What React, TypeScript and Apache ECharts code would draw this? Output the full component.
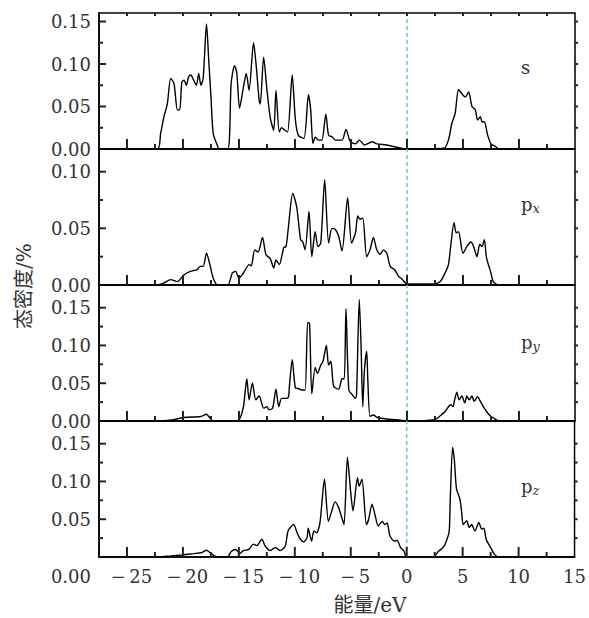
import React, { useEffect, useRef } from 'react';
import * as echarts from 'echarts';

// ---- data (energy eV, DOS) ----
const sDos: number[][] = [[-27.5,0],[-22.3,0],[-22.0,0.018],[-21.7,0.038],[-21.4,0.053],[-21.1,0.083],[-20.8,0.077],[-20.5,0.046],[-20.3,0.046],[-20.1,0.079],[-19.9,0.081],[-19.7,0.075],[-19.5,0.085],[-19.3,0.087],[-19.05,0.081],[-18.8,0.075],[-18.6,0.089],[-18.4,0.075],[-18.2,0.083],[-17.9,0.147],[-17.7,0.104],[-17.5,0.061],[-17.3,0.018],[-16.9,0.003],[-16.8,0],[-16.0,0],[-15.7,0.077],[-15.4,0.098],[-15.2,0.09],[-14.95,0.048],[-14.6,0.073],[-14.35,0.089],[-14.1,0.069],[-13.7,0.125],[-13.45,0.096],[-13.2,0.057],[-13.1,0.053],[-12.8,0.108],[-12.5,0.069],[-12.2,0.036],[-11.9,0.022],[-11.7,0.069],[-11.4,0.020],[-11.2,0.025],[-10.9,0.022],[-10.66,0.020],[-10.25,0.087],[-9.97,0.035],[-9.7,0.016],[-9.2,0.0125],[-8.8,0.064],[-8.6,0.046],[-8.4,0.0066],[-8.2,0.014],[-7.9,0.0105],[-7.6,0.0105],[-7.25,0.041],[-7.0,0.016],[-6.7,0.0144],[-6.4,0.0105],[-5.8,0.0105],[-5.45,0.023],[-5.06,0.0086],[-4.6,0.006],[-4.26,0.0105],[-3.8,0.0047],[-3.1,0.0086],[-2.7,0.006],[-1.8,0.0047],[-0.9,0.002],[-0.15,0],[3.3,0.001],[3.7,0.0105],[4.0,0.030],[4.3,0.042],[4.6,0.070],[4.9,0.065],[5.2,0.061],[5.5,0.067],[5.8,0.050],[6.1,0.046],[6.3,0.034],[6.55,0.038],[6.7,0.032],[6.9,0.032],[7.2,0.0164],[7.5,0.006],[7.9,0.003],[8.2,0],[15,0]];

const pxDos: number[][] = [[-27.5,0],[-22.3,0],[-21.7,0.0018],[-21.1,0.0047],[-20.5,0.003],[-19.9,0.009],[-19.35,0.012],[-18.75,0.0135],[-18.45,0.0164],[-18.2,0.0164],[-17.9,0.028],[-17.6,0.018],[-17.3,0.006],[-16.9,0],[-16.0,0],[-15.6,0.0106],[-15.3,0.012],[-15.0,0.006],[-14.6,0.0106],[-14.1,0.018],[-13.9,0.017],[-13.6,0.031],[-13.3,0.029],[-12.9,0.042],[-12.6,0.027],[-12.2,0.023],[-11.9,0.015],[-11.7,0.022],[-11.4,0.018],[-11.0,0.033],[-10.8,0.034],[-10.6,0.05],[-10.2,0.081],[-9.85,0.069],[-9.5,0.040],[-9.3,0.038],[-9.1,0.031],[-8.75,0.065],[-8.5,0.025],[-8.2,0.047],[-7.95,0.034],[-7.7,0.037],[-7.35,0.093],[-7.0,0.037],[-6.7,0.050],[-6.4,0.049],[-6.1,0.043],[-5.8,0.030],[-5.3,0.077],[-4.95,0.037],[-4.6,0.046],[-4.4,0.061],[-4.2,0.058],[-3.95,0.059],[-3.6,0.025],[-3.3,0.031],[-3.0,0.042],[-2.7,0.031],[-2.4,0.027],[-2.1,0.031],[-1.8,0.028],[-1.5,0.0164],[-1.1,0.0135],[-0.75,0.0076],[-0.45,0.0053],[0,0.001],[2.5,0.001],[2.97,0.003],[3.4,0.0106],[3.7,0.018],[3.9,0.034],[4.2,0.055],[4.4,0.046],[4.6,0.047],[5.0,0.028],[5.35,0.034],[5.7,0.038],[5.95,0.034],[6.25,0.025],[6.5,0.036],[6.7,0.034],[6.9,0.040],[7.1,0.024],[7.5,0.0106],[7.7,0.003],[8.2,0],[15,0]];

const pyDos: number[][] = [[-27.5,0],[-22.3,0],[-20.8,0.0018],[-20.2,0.004],[-19.6,0.005],[-18.4,0.006],[-17.9,0.009],[-17.7,0.006],[-17.3,0],[-15.2,0],[-14.9,0.004],[-14.6,0.019],[-14.3,0.056],[-14.1,0.028],[-13.8,0.050],[-13.5,0.028],[-13.2,0.033],[-12.8,0.017],[-12.5,0.019],[-12.35,0.015],[-12.0,0.017],[-11.7,0.042],[-11.45,0.019],[-11.2,0.030],[-10.9,0.030],[-10.6,0.031],[-10.5,0.046],[-10.25,0.081],[-9.97,0.044],[-9.7,0.043],[-9.4,0.041],[-9.1,0.041],[-8.87,0.130],[-8.7,0.129],[-8.5,0.036],[-8.2,0.071],[-8.0,0.063],[-7.7,0.074],[-7.5,0.079],[-7.2,0.100],[-7.0,0.074],[-6.8,0.079],[-6.55,0.046],[-6.1,0.042],[-5.8,0.056],[-5.6,0.056],[-5.45,0.149],[-5.2,0.041],[-4.9,0.035],[-4.6,0.030],[-4.5,0.037],[-4.26,0.161],[-4.1,0.099],[-3.95,0.019],[-3.8,0.068],[-3.6,0.092],[-3.5,0.055],[-3.3,0.006],[-3.0,0.008],[-2.7,0.005],[-1.8,0.0026],[-0.9,0.0018],[0,0],[2.5,0.0018],[2.97,0.007],[3.4,0.0127],[3.9,0.0216],[4.1,0.019],[4.25,0.028],[4.45,0.038],[4.65,0.028],[4.9,0.033],[5.15,0.024],[5.35,0.033],[5.55,0.028],[5.8,0.033],[6.0,0.026],[6.3,0.032],[6.55,0.026],[6.9,0.017],[7.2,0.0106],[7.5,0.006],[7.9,0.0026],[8.2,0],[15,0]];

const pzDos: number[][] = [[-27.5,0],[-22.2,0],[-21.1,0.0013],[-20.1,0.0027],[-19.05,0.0045],[-18.3,0.006],[-17.9,0.009],[-17.6,0.006],[-17.3,0.0027],[-16.9,0],[-16.0,0],[-15.7,0.007],[-15.3,0.010],[-14.9,0.0045],[-14.6,0.0085],[-14.1,0.010],[-13.7,0.017],[-13.4,0.015],[-12.95,0.0235],[-12.65,0.0146],[-12.2,0.0085],[-11.75,0.0125],[-11.3,0.0085],[-10.85,0.0146],[-10.6,0.0345],[-10.1,0.043],[-9.8,0.032],[-9.5,0.0235],[-9.2,0.020],[-8.9,0.026],[-8.8,0.038],[-8.5,0.021],[-8.3,0.0345],[-8.05,0.032],[-7.75,0.0456],[-7.35,0.103],[-7.0,0.047],[-6.7,0.061],[-6.4,0.073],[-6.1,0.066],[-5.8,0.052],[-5.6,0.043],[-5.3,0.132],[-5.0,0.085],[-4.8,0.061],[-4.4,0.105],[-4.25,0.094],[-4.0,0.103],[-3.6,0.043],[-3.4,0.050],[-3.1,0.070],[-2.85,0.057],[-2.55,0.041],[-2.2,0.047],[-1.95,0.043],[-1.75,0.045],[-1.5,0.028],[-1.1,0.021],[-0.85,0.022],[-0.55,0.0125],[-0.25,0.008],[0,0],[2.4,0],[2.8,0.007],[3.3,0.0133],[3.6,0.0235],[3.8,0.0345],[3.9,0.079],[4.1,0.145],[4.25,0.130],[4.45,0.090],[4.75,0.077],[4.9,0.061],[5.05,0.043],[5.35,0.048],[5.6,0.039],[5.8,0.043],[6.1,0.0345],[6.45,0.0456],[6.7,0.037],[6.9,0.038],[7.1,0.0235],[7.5,0.0125],[7.8,0.0045],[8.2,0],[15,0]];

const panelData = [sDos, pxDos, pyDos, pzDos];
const panelMain = ['s', 'p', 'p', 'p'];
const panelSub = ['', 'x', 'y', 'z'];
const yMaxes = [0.16, 0.12, 0.18, 0.18];
const yMinorTicks = [
  [0.025, 0.075, 0.125],
  [0.025, 0.075],
  [0.025, 0.075, 0.125],
  [0.025, 0.075, 0.125],
];
const yMajorTicks = [
  [0.05, 0.1, 0.15],
  [0.05, 0.1],
  [0.05, 0.1, 0.15],
  [0.05, 0.1, 0.15],
];
const yRightTicks = [
  [0.025, 0.05, 0.075, 0.1, 0.125, 0.15],
  [0.025, 0.05, 0.075, 0.1],
  [0.025, 0.05, 0.075, 0.1, 0.125, 0.15],
  [0.025, 0.05, 0.075, 0.1, 0.125, 0.15],
];
const xMajorTicks = [-25, -20, -15, -10, -5, 0, 5, 10];
const xMinorTicks = [-22.5, -17.5, -12.5, -7.5, -2.5, 2.5, 7.5, 12.5];
const xTopTicks = [-25, -22.5, -20, -17.5, -15, -12.5, -10, -7.5, -5, -2.5, 0, 2.5, 5, 7.5, 10, 12.5];
const FERMI = 0;
const X_MIN = -27.5;
const X_MAX = 15;
const X_STEP = 2.5;
const Y_STEP = 0.05;
const xTitle = '能量/eV';
const yTitle = '态密度/%';

const FONT = '"DejaVu Serif", "Liberation Serif", serif';
const CJK = '"DejaVu Serif", "Noto Sans CJK SC", serif';
const TXT = '#333';
const TICK = '#222';

const GRID_LEFT = 99;
const GRID_W = 476;
const GRID_TOPS = [13, 149, 285, 421];
const GRID_H = 136;

function isMult(v: number, step: number) {
  const r = v / step;
  return Math.abs(r - Math.round(r)) < 1e-6;
}

function fmtX(v: number) {
  if (!isMult(v, 5)) return '';
  if (v < 0) return '\u2002\u2212\u2009' + Math.abs(v);
  return String(v);
}

// kind: 0 bottom-major, 1 bottom-minor, 2 left-major, 3 left-minor, 4 right, 5 top
function tickSeries(i: number, kind: number, data: number[][]) {
  return {
    type: 'custom', xAxisIndex: i, yAxisIndex: i, z: 20,
    data,
    renderItem: (_p: any, api: any) => {
      const pt = api.coord([api.value(0), api.value(1)]);
      let shape: any;
      if (kind === 0) shape = { x: pt[0] - 1, y: pt[1] - 10, width: 2, height: 10 };
      else if (kind === 1) shape = { x: pt[0] - 1, y: pt[1] - 5, width: 2, height: 5 };
      else if (kind === 2) shape = { x: pt[0], y: pt[1] - 1, width: 7, height: 2 };
      else if (kind === 3) shape = { x: pt[0], y: pt[1] - 1, width: 4, height: 2 };
      else if (kind === 4) shape = { x: pt[0], y: pt[1] - 1, width: 3, height: 2 };
      else shape = { x: pt[0] - 1, y: pt[1], width: 2, height: 3 };
      return { type: 'rect', shape, style: { fill: TICK } };
    },
  };
}

export default function App() {
  const ref = useRef<HTMLDivElement>(null);
  useEffect(() => {
    if (!ref.current) return;
    const chart = echarts.init(ref.current, undefined, { renderer: 'svg' });
    const grids: any[] = [];
    const xAxes: any[] = [];
    const yAxes: any[] = [];
    const series: any[] = [];
    for (let i = 0; i < 4; i++) {
      grids.push({
        left: GRID_LEFT, top: GRID_TOPS[i], width: GRID_W, height: GRID_H,
        show: true, borderColor: '#000', borderWidth: 1.5,
      });
      xAxes.push({
        type: 'value', gridIndex: i, min: X_MIN, max: X_MAX, interval: X_STEP, position: 'bottom',
        axisLine: { show: true, onZero: false, lineStyle: { color: '#000', width: 1.5 } },
        axisTick: { show: false },
        splitLine: { show: false },
        axisLabel: {
          show: i === 3, formatter: fmtX, margin: 10,
          fontFamily: FONT, fontSize: 18, color: TXT,
        },
      });
      yAxes.push({
        type: 'value', gridIndex: i, min: 0, max: yMaxes[i], interval: Y_STEP, position: 'left',
        axisLine: { show: true, onZero: false, lineStyle: { color: '#000', width: 1.5 } },
        axisTick: { show: false },
        splitLine: { show: false },
        axisLabel: {
          show: true, formatter: (v: number) => (isMult(v, Y_STEP) ? v.toFixed(2) : ''), margin: 8,
          showMaxLabel: false, showMinLabel: i !== 3,
          fontFamily: FONT, fontSize: 18, color: TXT,
        },
      });
      series.push({
        type: 'line', xAxisIndex: i, yAxisIndex: i, data: panelData[i],
        showSymbol: false, smooth: 0.25,
        lineStyle: { color: '#000', width: 1.4 },
      });
      series.push({
        type: 'line', xAxisIndex: i, yAxisIndex: i,
        data: [[FERMI, 0], [FERMI, yMaxes[i]]],
        showSymbol: false, silent: true,
        lineStyle: { color: '#5cc6d6', type: [4, 3], width: 1.5 },
      });
      series.push(tickSeries(i, 0, xMajorTicks.map((v) => [v, 0])));
      series.push(tickSeries(i, 1, xMinorTicks.map((v) => [v, 0])));
      series.push(tickSeries(i, 2, yMajorTicks[i].map((v) => [X_MIN, v])));
      series.push(tickSeries(i, 3, yMinorTicks[i].map((v) => [X_MIN, v])));
      series.push(tickSeries(i, 4, yRightTicks[i].map((v) => [X_MAX, v])));
      if (i === 0) series.push(tickSeries(i, 5, xTopTicks.map((v) => [v, yMaxes[i]])));
    }

    const graphic: any[] = [
      { type: 'text', x: 24, y: 286, rotation: Math.PI / 2,
        style: { text: yTitle, font: `20px ${CJK}`, fill: TXT, align: 'center', verticalAlign: 'middle' } },
      { type: 'text', x: 370, y: 605,
        style: { text: xTitle, font: `20px ${CJK}`, fill: TXT, align: 'center', verticalAlign: 'middle' } },
      { type: 'text', x: 91, y: 576,
        style: { text: '0.00', font: `18px ${FONT}`, fill: TXT, align: 'right', verticalAlign: 'middle' } },
    ];
    const labelY = [67, 204, 342, 486];
    for (let i = 0; i < 4; i++) {
      graphic.push({ type: 'text', x: 521, y: labelY[i],
        style: { text: panelMain[i], font: `18px ${FONT}`, fill: TXT, align: 'left', verticalAlign: 'middle' } });
      if (panelSub[i]) {
        graphic.push({ type: 'text', x: 532.5, y: labelY[i] + 4,
          style: { text: panelSub[i], font: `italic 13px ${FONT}`, fill: TXT, align: 'left', verticalAlign: 'middle' } });
      }
    }

    chart.setOption({
      animation: false,
      backgroundColor: '#fff',
      grid: grids,
      xAxis: xAxes,
      yAxis: yAxes,
      series,
      graphic,
    });
    return () => chart.dispose();
  }, []);
  return <div ref={ref} style={{ position: 'absolute', left: 0, top: 0, width: 589, height: 618 }} />;
}
